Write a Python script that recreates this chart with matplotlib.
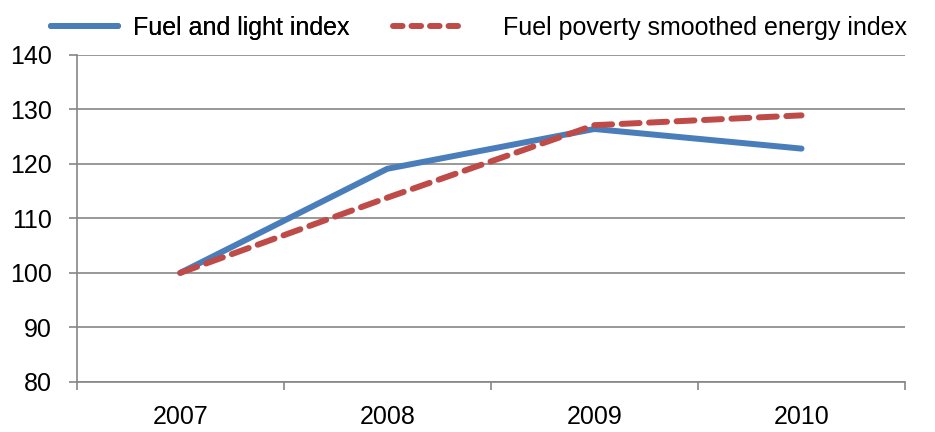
import matplotlib.pyplot as plt
from matplotlib.lines import Line2D

plt.rcParams['font.family'] = ['Liberation Sans', 'DejaVu Sans']

years = ['2007', '2008', '2009', '2010']
fuel_light = [100, 119.1, 126.4, 122.8]
fuel_poverty = [100, 113.8, 127.1, 128.9]

fig = plt.figure(figsize=(9.35, 4.32), dpi=100)
ax = fig.add_axes([0.082, 0.116, 0.886, 0.757])

x = list(range(len(years)))
ax.plot(x, fuel_light, color='#4A7EBB', lw=4.3, solid_capstyle='round',
        solid_joinstyle='round', label='Fuel and light index', zorder=3)
ax.plot(x, fuel_poverty, color='#BE4B48', lw=4.3, dashes=(3.0, 1.6),
        dash_capstyle='round', label='Fuel poverty smoothed energy index', zorder=3)

ax.set_xlim(-0.5, len(years) - 0.5)
ax.set_ylim(80, 140)
ax.set_yticks(range(80, 141, 10))
ax.set_xticks(x)
ax.set_xticklabels(years)
ax.set_xticks([i - 0.5 for i in range(len(years) + 1)], minor=True)
ax.tick_params(axis='x', which='major', length=0, pad=17, labelsize=18)
ax.tick_params(axis='x', which='minor', length=6, width=1.2, color='#868686')
ax.tick_params(axis='y', length=6, width=1.2, color='#868686', labelsize=18, pad=12)

ax.grid(axis='y', color='#868686', lw=1.2)
ax.set_axisbelow(True)
for s in ['top', 'right']:
    ax.spines[s].set_visible(False)
for s in ['left', 'bottom']:
    ax.spines[s].set_color('#868686')
    ax.spines[s].set_linewidth(1.2)

# legend entries placed separately, like the Excel layout
h1 = Line2D([], [], color='#4A7EBB', lw=4.3, solid_capstyle='round')
h2 = Line2D([], [], color='#BE4B48', lw=4.3, dashes=(1.6, 1.5), dash_capstyle='round')
leg1 = fig.legend([h1], ['Fuel and light index'], loc='upper left',
                  bbox_to_anchor=(0.0545, 0.963), frameon=False, fontsize=18,
                  handlelength=2.7, handletextpad=0.6, borderpad=0, borderaxespad=0)
fig.legend([h2], ['Fuel poverty smoothed energy index'], loc='upper left',
           bbox_to_anchor=(0.42, 0.963), frameon=False, fontsize=18,
           handlelength=2.6, handletextpad=1.8, borderpad=0, borderaxespad=0)
fig.add_artist(leg1)

fig.savefig('out.png', dpi=100)
